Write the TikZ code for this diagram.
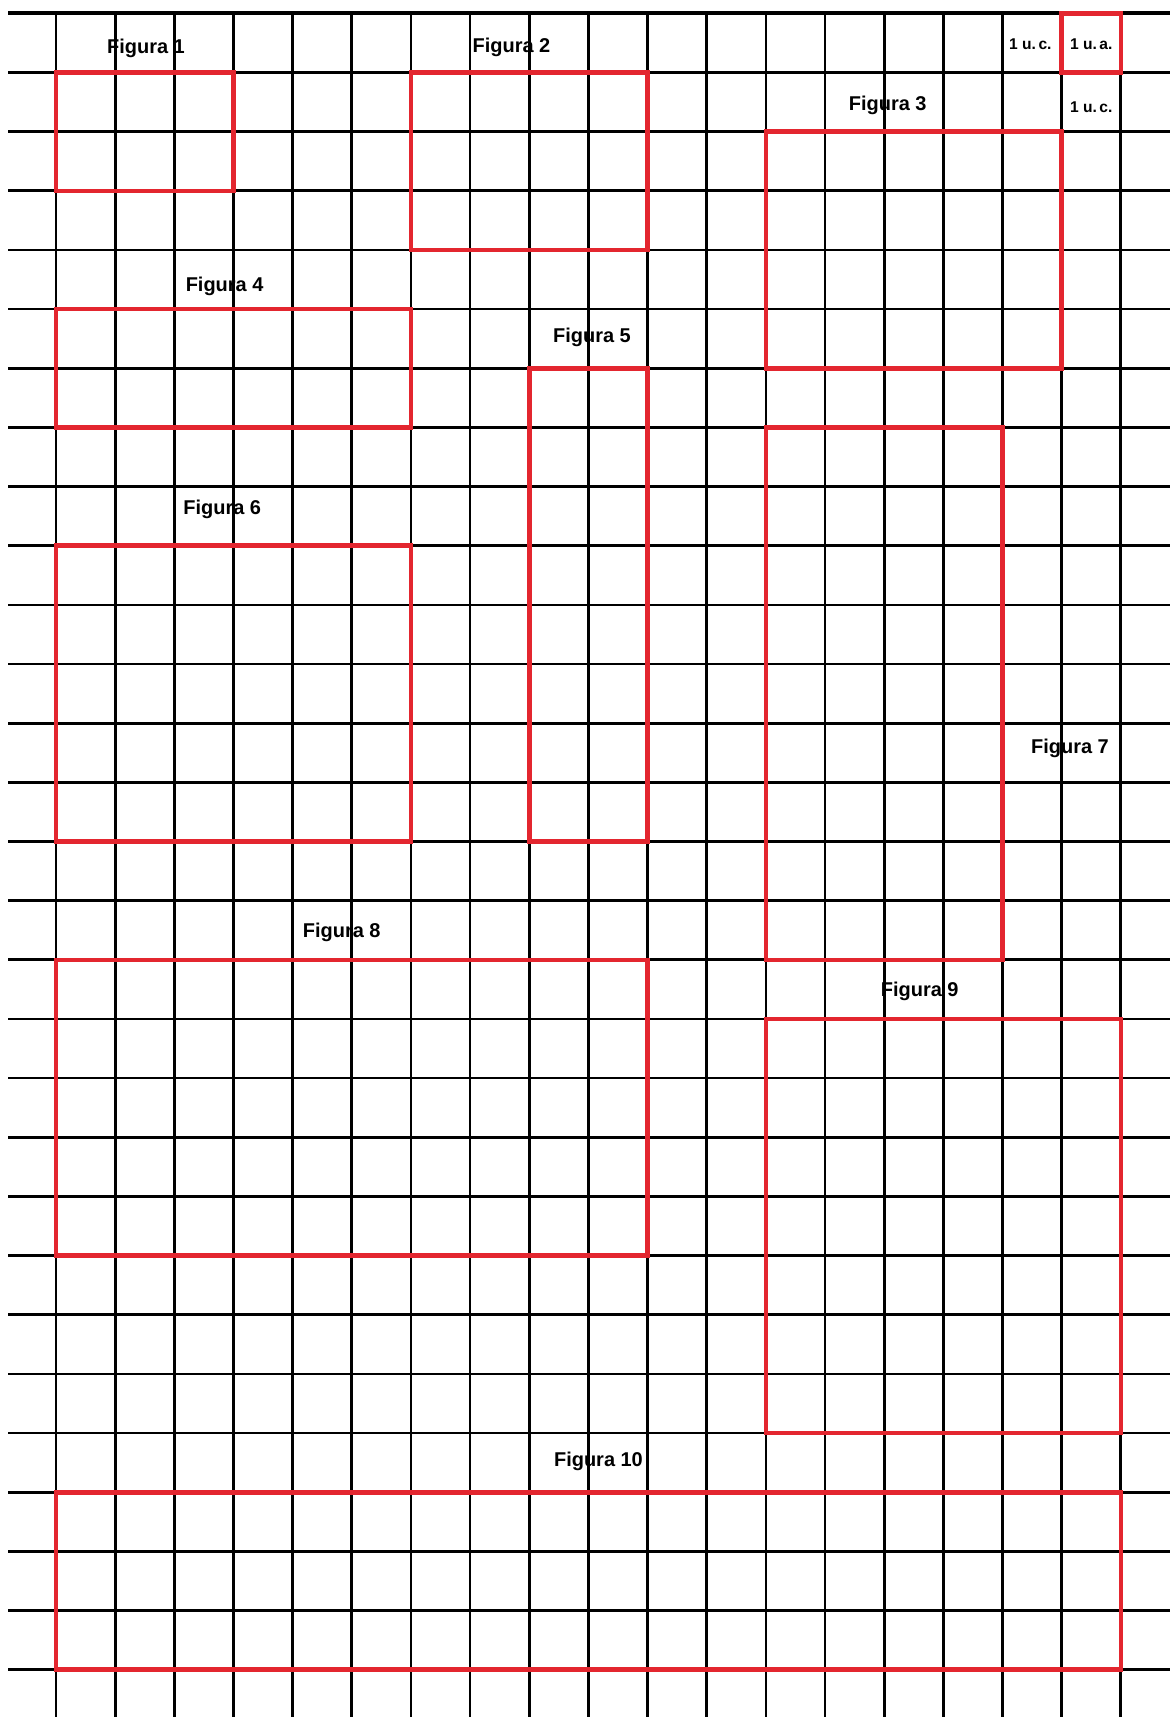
\documentclass[tikz,border=0pt]{standalone}
\usepackage{fontspec}
\setmainfont{Liberation Sans}
\definecolor{cfig}{HTML}{E3262F}

\begin{document}
\begin{tikzpicture}[x=1cm,y=-1cm,
    grid/.style={line width=1.3pt,black},
    fig/.style={line width=2.2pt,cfig},
    lbl/.style={font=\fontsize{9.6}{11}\selectfont\bfseries,inner sep=0pt},
    unit/.style={font=\fontsize{7.5}{9}\selectfont\bfseries,inner sep=0pt}]
  \useasboundingbox (-0.947,-0.225) rectangle (18.83,28.80);
  % squared paper
  \foreach \j in {1,...,28} \draw[grid] (-0.81,\j) -- (18.83,\j);
  \draw[grid,line width=2pt] (-0.81,0) -- (18.83,0);
  \foreach \k in {0,...,18} \draw[grid] (\k,0) -- (\k,28.80);
  % unit square
  \draw[fig] (17,0) rectangle (18,1);
  \node[unit] (uc1) at (16.47,0.53) {1 u.\,c.};
  \node[unit] (ua) at (17.5,0.53) {1 u.\,a.};
  \node[unit] (uc2) at (17.5,1.58) {1 u.\,c.};
  % figures
  \foreach \a/\b/\c/\d in {0/1/3/3, 6/1/10/4, 12/2/17/6, 0/5/6/7, 8/6/10/14,
      0/9/6/14, 12/7/16/16, 0/16/10/21, 12/17/18/24, 0/25/18/28}
    \draw[fig] (\a,\b) rectangle (\c,\d);
  \node[lbl] (f1) at (1.52,0.6) {Figura 1};
  \node[lbl] (f2) at (7.7,0.58) {Figura 2};
  \node[lbl] (f3) at (14.06,1.56) {Figura 3};
  \node[lbl] (f4) at (2.85,4.61) {Figura 4};
  \node[lbl] (f5) at (9.06,5.47) {Figura 5};
  \node[lbl] (f6) at (2.81,8.39) {Figura 6};
  \node[lbl] (f7) at (17.14,12.42) {Figura 7};
  \node[lbl] (f8) at (4.83,15.54) {Figura 8};
  \node[lbl] (f9) at (14.6,16.54) {Figura 9};
  \node[lbl] (f10) at (9.17,24.48) {Figura 10};
\end{tikzpicture}
\end{document}
